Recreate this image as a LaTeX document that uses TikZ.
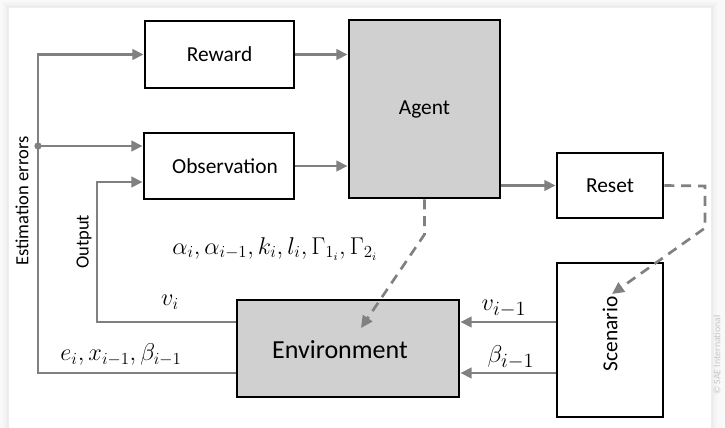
\documentclass[tikz,border=0pt]{standalone}
\usepackage{fontspec}
\setmainfont{Carlito}
\usetikzlibrary{arrows.meta, positioning}
\definecolor{linegray}{RGB}{128,128,128}
\definecolor{boxgray}{RGB}{208,208,208}
\tikzset{
    block/.style={draw, line width=2pt, rectangle, fill=white, inner sep=0pt},
    grayblock/.style={block, fill=boxgray},
    flow/.style={draw=linegray, line width=2.1pt, -{Triangle[length=0.28cm, width=0.26cm]}},
    dashflow/.style={draw=linegray, line width=1.9pt, dash pattern=on 0.25cm off 0.17cm, -{Triangle[length=0.3cm, width=0.28cm]}},
    mathlabel/.style={font=\fontsize{17}{19}\selectfont},
    sidelabel/.style={rotate=90, font=\fontsize{13.2}{15}\selectfont},
}
\begin{document}
\begin{tikzpicture}[x=0.025cm, y=-0.025cm, font=\fontsize{15.2}{18}\selectfont]
    % Background with shadow
    \useasboundingbox (0,0) rectangle (725,428);
    \fill[gray!5] (0,0) rectangle (725,428);
    \fill[gray!9] (3,2) rectangle (717,428);
    \fill[gray!14] (6,5) rectangle (714,428);
    \fill[white] (9,8) rectangle (711,428);

    % Box for Reward
    \node[block, minimum width=3.725cm, minimum height=1.675cm] (Reward) at (219.5,54.5) {Reward};

    % Box for Observation
    \node[block, minimum width=3.75cm, minimum height=1.65cm] (Observation) at (219,166) {\hspace{0.3cm}Observation};

    % Box for Agent
    \node[grayblock, minimum width=3.775cm, minimum height=4.45cm] (Agent) at (424.5,109) {Agent};

    % Box for Reset
    \node[block, minimum width=2.65cm, minimum height=1.625cm] (Reset) at (610,185.5) {Reset};

    % Box for Scenario
    \node[block, minimum width=2.65cm, minimum height=3.85cm] (Scenario) at (610,340) {};
    \node[rotate=90] (ScenarioText) at (610,334) {Scenario};

    % Box for Environment
    \node[grayblock, minimum width=5.55cm, minimum height=2.425cm] (Environment) at (348,348.5) {};
    \node[font=\fontsize{18.5}{21}\selectfont] (EnvText) at (340,350) {Environment};

    % Corner points
    \coordinate (ErrBottom) at (38,373);
    \coordinate (ErrSplit) at (38,146);
    \coordinate (OutBottom) at (97,322);
    \coordinate (OutTop) at (97,182);
    \coordinate (EnvIn) at (361,328);
    \coordinate (ResetCorner) at (705,186);
    \coordinate (ScenIn) at (612,294);

    % Arrows
    \draw[flow] (Reward.east) -- (Reward.east -| Agent.west);
    \draw[flow] (Observation.east) -- (Observation.east -| Agent.west);
    \draw[flow] (Reset.west -| Agent.east) -- (Reset.west);
    \draw[flow] (ErrBottom -| Environment.west) -- (ErrBottom) |- (Reward.west);
    \draw[flow] (ErrSplit) -- (ErrSplit -| Observation.west);
    \fill[linegray] (ErrSplit) circle (2.6pt);
    \draw[flow] (OutBottom -| Environment.west) -- (OutBottom) -- (OutTop) -- (OutTop -| Observation.west);
    \draw[flow] (OutBottom -| Scenario.west) -- (OutBottom -| Environment.east);
    \draw[flow] (ErrBottom -| Scenario.west) -- (ErrBottom -| Environment.east);
    \draw[dashflow] (Agent.south) -- ++(0,35) -- (EnvIn);
    \draw[dashflow] (Reset.east) -- (ResetCorner) -- ++(0,42) -- (ScenIn);

    % Labels
    \node[sidelabel] (ErrLabel) at (22,201) {Estimation errors};
    \node[sidelabel] (OutLabel) at (84,242) {Output};
    \node[mathlabel] (Params) at (275,249) {$\alpha_i, \alpha_{i-1}, k_i, l_i, \Gamma_{1_i}, \Gamma_{2_i}$};
    \node[mathlabel] (OutVal) at (170,302) {$v_i$};
    \node[mathlabel] (ErrVal) at (121,355) {$e_i, x_{i-1}, \beta_{i-1}$};
    \node[mathlabel, font=\fontsize{19}{21}\selectfont] (ScenV) at (504,309) {$v_{i-1}$};
    \node[mathlabel, font=\fontsize{19}{21}\selectfont] (ScenB) at (511,357) {$\beta_{i-1}$};
    \node[rotate=90, text=gray!45, font=\fontsize{7}{8}\selectfont] (Copyright) at (717,355) {© SAE International};
\end{tikzpicture}
\end{document}
